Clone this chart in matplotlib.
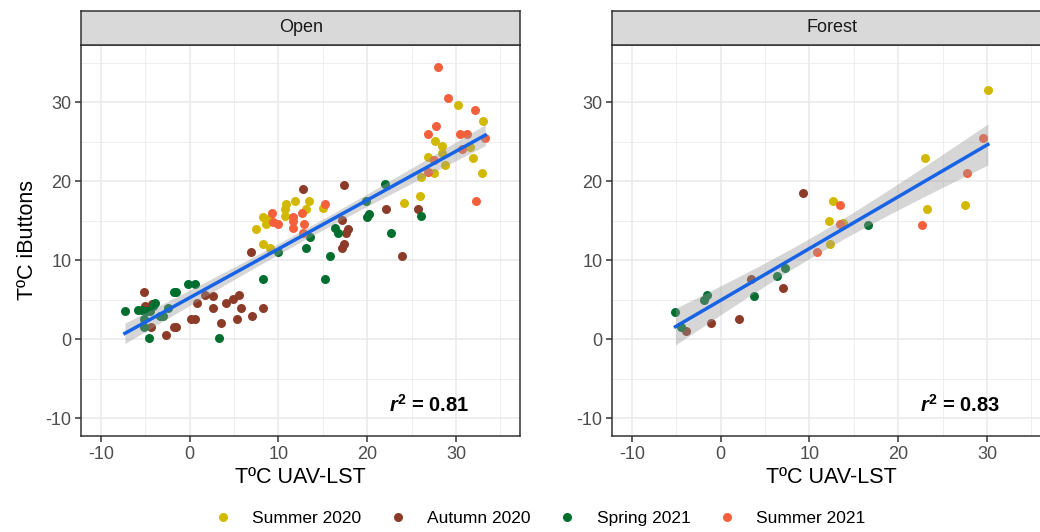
import numpy as np
import matplotlib
matplotlib.use("Agg")
import matplotlib.pyplot as plt
from matplotlib.lines import Line2D

plt.rcParams['font.family'] = ['Liberation Sans', 'DejaVu Sans']
plt.rcParams['mathtext.fontset'] = 'custom'
plt.rcParams['mathtext.rm'] = 'Liberation Sans'
plt.rcParams['mathtext.it'] = 'Liberation Sans:italic'
plt.rcParams['mathtext.bf'] = 'Liberation Sans:bold'
plt.rcParams['mathtext.bfit'] = 'Liberation Sans:italic:bold'
plt.rcParams['axes.unicode_minus'] = False

seasons = ["Summer 2020", "Autumn 2020", "Spring 2021", "Summer 2021"]
colors = ["#D3B800", "#8C3B28", "#006E2E", "#F5603C"]
panels = ["Open", "Forest"]
r2_labels = ["0.81", "0.83"]

# Open site: (UAV-LST, iButton) pairs per season
open_summer20 = [(30.2, 29.7), (33.0, 27.6), (27.6, 25.1), (28.4, 24.5), (31.6, 24.4), (28.4, 23.6),
                 (26.9, 23.1), (31.9, 23.0), (28.8, 22.0), (27.5, 21.0), (32.9, 21.0), (26.1, 20.5),
                 (25.9, 18.1), (24.2, 17.2), (11.9, 17.5), (13.4, 17.5), (10.9, 17.1), (10.7, 16.5),
                 (13.1, 16.5), (15.0, 16.6), (8.3, 15.5), (9.0, 15.4), (10.7, 15.6), (7.5, 14.0),
                 (8.6, 14.6), (8.3, 12.0), (9.0, 11.6)]
open_autumn20 = [(25.7, 16.5), (22.1, 16.5), (17.4, 19.5), (12.8, 19.0), (17.2, 15.1), (17.8, 14.0),
                 (17.6, 13.5), (17.4, 12.0), (17.2, 11.6), (23.9, 10.5), (6.9, 11.0), (-5.2, 6.0),
                 (1.7, 5.6), (2.65, 5.5), (5.6, 5.6), (4.9, 5.1), (4.1, 4.6), (0.8, 4.6), (-5.0, 4.2),
                 (-4.3, 4.4), (2.65, 3.9), (5.8, 4.0), (8.3, 4.0), (7.0, 3.0), (5.3, 2.6), (3.5, 2.1),
                 (-4.4, 1.6), (0.2, 2.5), (0.6, 2.5), (-1.8, 1.5), (-1.5, 1.6), (-2.7, 0.5)]
open_spring21 = [(26.1, 15.6), (22.0, 19.6), (19.9, 17.5), (20.2, 15.8), (20.0, 15.5), (22.7, 13.5),
                 (16.4, 14.1), (16.7, 13.5), (13.6, 13.0), (13.1, 11.5), (15.8, 10.5), (10.0, 11.0),
                 (8.3, 7.6), (15.3, 7.6), (-0.15, 7.05), (0.6, 7.05), (-1.8, 6.0), (-1.5, 6.0),
                 (-7.3, 3.6), (-5.8, 3.7), (-5.4, 3.7), (-3.9, 4.6), (-4.1, 4.2), (-4.8, 3.6),
                 (-4.5, 3.6), (-2.4, 4.0), (-3.0, 3.0), (-3.3, 3.0), (-5.2, 2.5), (-5.2, 1.5),
                 (-4.6, 0.1), (3.3, 0.1)]
open_summer21 = [(28.0, 34.5), (29.1, 30.5), (32.2, 29.0), (27.7, 27.0), (26.9, 26.0), (30.5, 26.0),
                 (31.2, 26.0), (33.3, 25.5), (30.7, 24.1), (27.5, 22.7), (26.9, 21.2), (32.3, 17.5),
                 (15.3, 17.1), (12.6, 16.0), (9.3, 16.0), (11.6, 15.5), (9.4, 14.8), (9.95, 14.6),
                 (11.6, 15.0), (12.9, 14.6), (11.6, 14.1), (12.8, 13.5)]

# Forest site
forest_summer20 = [(30.1, 31.5), (23.0, 23.0), (12.7, 17.5), (23.3, 16.5), (27.5, 17.0), (12.2, 15.0),
                   (13.8, 14.7), (12.35, 12.0)]
forest_autumn20 = [(9.3, 18.5), (7.0, 6.5), (3.4, 7.6), (2.1, 2.5), (-1.05, 2.0), (-3.9, 1.0)]
forest_spring21 = [(16.6, 14.5), (7.25, 9.0), (6.3, 8.0), (3.8, 5.5), (-1.5, 5.6), (-1.9, 5.0),
                   (-5.1, 3.5), (-4.5, 1.5)]
forest_summer21 = [(29.5, 25.5), (27.7, 21.0), (13.4, 17.0), (13.4, 14.6), (22.7, 14.5), (10.9, 11.0)]

data = {
    "Open": [open_summer20, open_autumn20, open_spring21, open_summer21],
    "Forest": [forest_summer20, forest_autumn20, forest_spring21, forest_summer21],
}

W, H = 1040, 532
fig = plt.figure(figsize=(W / 100, H / 100), dpi=100)

panel_left = [81, 612]
panel_w = 439.3
top_px, bot_px = 45, 436
strip_top = 11

for i, name in enumerate(panels):
    ax = fig.add_axes([panel_left[i] / W, 1 - bot_px / H, panel_w / W, (bot_px - top_px) / H])
    allx, ally = [], []
    for pts, c in zip(data[name], colors):
        arr = np.array(pts)
        ax.scatter(arr[:, 0], arr[:, 1], s=42, color=c, linewidths=0, zorder=3)
        allx += list(arr[:, 0])
        ally += list(arr[:, 1])
    allx = np.array(allx)
    ally = np.array(ally)

    # linear fit with 95% confidence band
    n = len(allx)
    b, a = np.polyfit(allx, ally, 1)
    xs = np.linspace(allx.min(), allx.max(), 80)
    ys = a + b * xs
    resid = ally - (a + b * allx)
    s = np.sqrt(np.sum(resid ** 2) / (n - 2))
    sxx = np.sum((allx - allx.mean()) ** 2)
    se = s * np.sqrt(1 / n + (xs - allx.mean()) ** 2 / sxx)
    t = 1.98 if n > 60 else 2.06
    ax.fill_between(xs, ys - t * se, ys + t * se, color="#999999", alpha=0.4, linewidth=0, zorder=4)
    ax.plot(xs, ys, color="#1763E6", linewidth=2.5, zorder=5)

    ax.set_xlim(-12.25, 37.25)
    ax.set_ylim(-12.25, 37.25)
    ax.set_xticks([-10, 0, 10, 20, 30])
    ax.set_yticks([-10, 0, 10, 20, 30])
    ax.set_xticks([-5, 5, 15, 25, 35], minor=True)
    ax.set_yticks([-5, 5, 15, 25, 35], minor=True)
    ax.grid(which="major", color="#EBEBEB", linewidth=1.2, zorder=0)
    ax.grid(which="minor", color="#EBEBEB", linewidth=0.6, zorder=0)
    ax.set_axisbelow(True)
    ax.tick_params(which="major", length=4, width=1.1, color="#333333",
                   labelcolor="#4D4D4D", labelsize=13, pad=3)
    ax.tick_params(which="minor", length=0)
    for sp in ax.spines.values():
        sp.set_color("#333333")
        sp.set_linewidth(1.1)
    ax.set_xlabel("TºC UAV-LST", fontsize=15.5, color="black", labelpad=3)
    if i == 0:
        ax.set_ylabel("TºC iButtons", fontsize=15.5, color="black", labelpad=5)
    ax.text(27.0, -8.3, r"$\mathbfit{r}^{\mathbf{2}}$ = " + r2_labels[i], fontsize=14.5,
            fontweight="bold", ha="center", va="center", color="black")

    sax = fig.add_axes([panel_left[i] / W, 1 - top_px / H, panel_w / W, (top_px - strip_top) / H])
    sax.set_facecolor("#D9D9D9")
    sax.set_xticks([])
    sax.set_yticks([])
    for sp in sax.spines.values():
        sp.set_color("#333333")
        sp.set_linewidth(1.1)
    sax.text(0.5, 0.5, name, ha="center", va="center", fontsize=13, color="#1A1A1A",
             transform=sax.transAxes)

handles = [Line2D([0], [0], marker="o", linestyle="", markersize=6.5, markerfacecolor=c,
                  markeredgewidth=0, label=lab) for lab, c in zip(seasons, colors)]
fig.legend(handles=handles, loc="center", bbox_to_anchor=(539 / W, 1 - 518 / H), ncol=4,
           frameon=False, fontsize=12.5, handletextpad=1.1, columnspacing=1.5, handlelength=1.2)

fig.savefig("out.png", dpi=100)
